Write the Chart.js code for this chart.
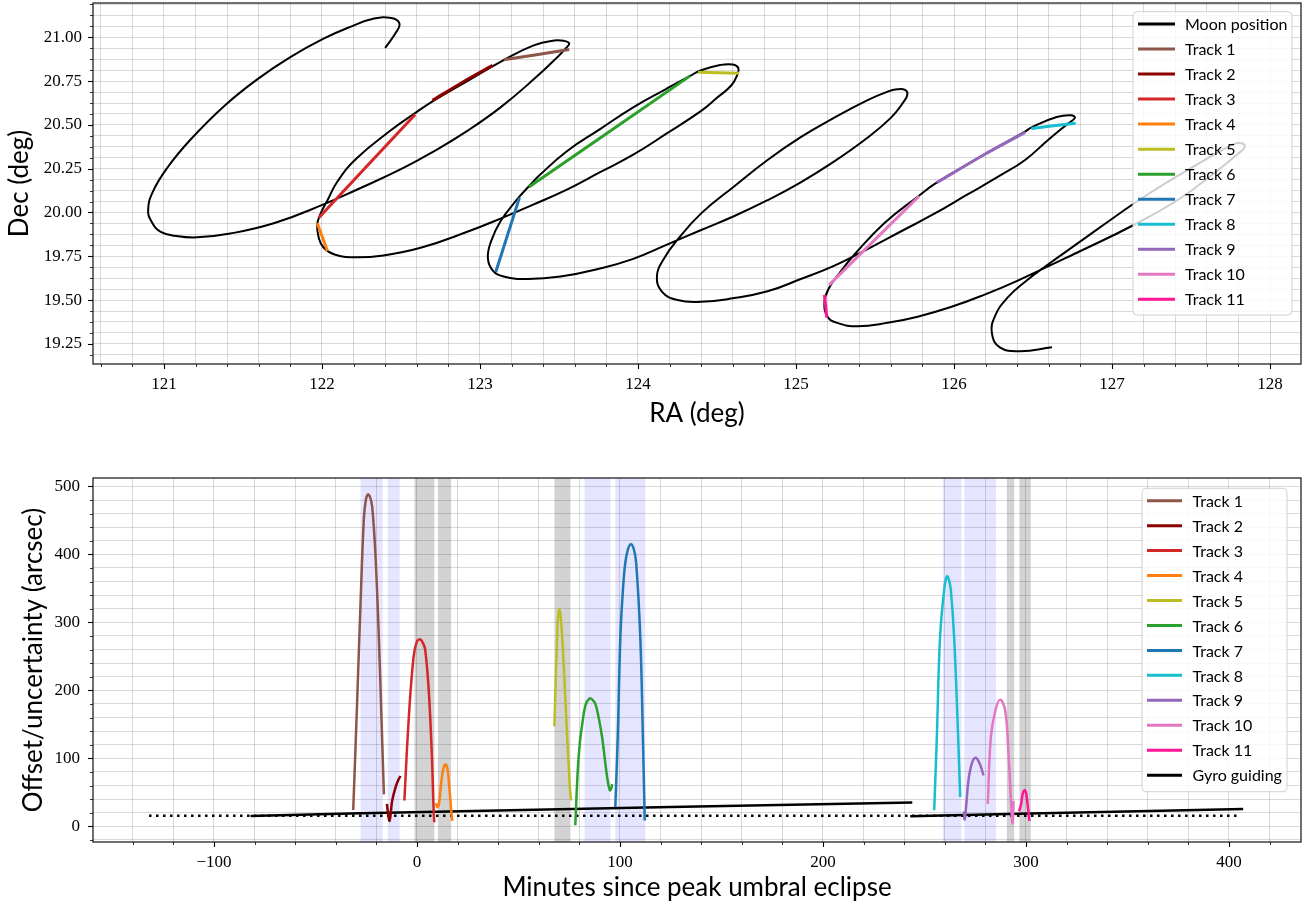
<!DOCTYPE html>
<html><head><meta charset="utf-8">
<script src="https://cdn.jsdelivr.net/npm/chart.js@4.4.1/dist/chart.umd.min.js"></script>
<style>
html,body{margin:0;padding:0;background:#fff;overflow:hidden;}
#w1{position:absolute;left:0;top:0;width:1305px;height:445px;}
#w2{position:absolute;left:0;top:445px;width:1305px;height:462px;}
</style></head><body>
<div id="w1"><canvas id="c1"></canvas></div>
<div id="w2"><canvas id="c2"></canvas></div>
<script>
// ---------------- DATA ----------------
const moonRA = [122.40,122.47,122.49,122.44,122.33,122.18,122.01,121.80,121.59,121.38,121.17,121.02,120.93,120.90,120.92,120.98,121.09,121.21,121.42,121.70,122.01,122.22,122.50,122.71,122.92,123.13,123.34,123.49,123.55,123.565,123.53,123.47,123.34,123.15,122.92,122.71,122.58,122.44,122.22,122.10,122.035,121.99,121.97,121.98,122.01,122.08,122.20,122.39,122.63,122.92,123.13,123.34,123.55,123.76,123.97,124.18,124.40,124.50,124.59,124.63,124.635,124.60,124.52,124.40,124.33,124.18,123.97,123.76,123.55,123.38,123.31,123.24,123.13,123.07,123.05,123.08,123.15,123.30,123.51,123.76,123.97,124.18,124.40,124.61,124.82,125.03,125.24,125.45,125.60,125.68,125.705,125.69,125.64,125.58,125.45,125.24,125.03,124.82,124.61,124.40,124.25,124.16,124.12,124.15,124.25,124.40,124.60,124.82,125.03,125.24,125.45,125.66,125.87,126.08,126.29,126.45,126.59,126.71,126.765,126.74,126.65,126.50,126.44,126.19,125.89,125.77,125.56,125.37,125.28,125.21,125.18,125.20,125.26,125.39,125.58,125.77,125.98,126.19,126.40,126.80,127.14,127.43,127.64,127.79,127.84,127.82,127.77,127.54,127.22,127.01,126.80,126.59,126.46,126.34,126.26,126.24,126.29,126.42,126.62];
const moonDec = [20.94,21.03,21.08,21.11,21.107,21.06,20.992,20.887,20.76,20.607,20.418,20.254,20.119,20.017,19.95,19.89,19.864,19.858,19.88,19.94,20.046,20.13,20.247,20.35,20.466,20.60,20.76,20.887,20.944,20.966,20.98,20.982,20.954,20.87,20.75,20.64,20.562,20.472,20.31,20.18,20.07,19.99,19.93,19.855,19.80,19.76,19.744,19.755,19.80,19.89,19.965,20.046,20.13,20.23,20.33,20.45,20.58,20.655,20.725,20.79,20.825,20.845,20.842,20.812,20.78,20.706,20.60,20.476,20.35,20.215,20.15,20.08,19.95,19.835,19.74,19.67,19.635,19.62,19.634,19.68,19.735,19.815,19.90,19.98,20.07,20.172,20.29,20.425,20.54,20.63,20.675,20.70,20.703,20.69,20.64,20.54,20.43,20.30,20.15,19.995,19.845,19.73,19.64,19.55,19.50,19.49,19.51,19.55,19.62,19.695,19.79,19.89,19.99,20.10,20.21,20.30,20.41,20.50,20.54,20.555,20.545,20.49,20.457,20.33,20.17,20.09,19.94,19.76,19.66,19.57,19.49,19.405,19.37,19.35,19.37,19.405,19.46,19.53,19.61,19.78,19.93,20.08,20.22,20.33,20.375,20.395,20.39,20.275,20.10,19.97,19.835,19.70,19.612,19.515,19.41,19.31,19.23,19.208,19.23];

const trackNames = ['Track 1','Track 2','Track 3','Track 4','Track 5','Track 6','Track 7','Track 8','Track 9','Track 10','Track 11'];
const trackColors = ['#8c564b','#8b0000','#d62728','#ff7f0e','#bcbd22','#2ca02c','#1f77b4','#17becf','#9467bd','#e377c2','#ff1493'];

const trackRA = [[123.15,123.565],[122.70,122.89,123.08],[121.98,122.59],[121.97,122.035],[124.38,124.64],[123.31,124.33],[123.25,123.10],[126.49,126.77],[125.89,126.19,126.45],[125.21,125.78],[125.18,125.195]];
const trackDec = [[20.872,20.93],[20.64,20.744,20.84],[19.97,20.56],[19.94,19.78],[20.80,20.795],[20.145,20.78],[20.085,19.66],[20.48,20.51],[20.17,20.33,20.457],[19.587,20.094],[19.53,19.40]];

const trackTime = [
  [-31.4,-29.5,-27.8,-26.2,-25.3,-24.3,-23.2,-22.1,-20.5,-18.8,-17.2,-16.3],
  [-14.8,-14.2,-13.5,-12.9,-12.2,-10.6,-9.2,-8.1],
  [-6.2,-4.1,-1.7,0.0,1.6,3.2,4.1,5.7,7.3,8.1,8.5],
  [9.4,10.0,10.8,11.8,13.0,14.0,15.0,16.0,16.8,17.4],
  [67.7,68.2,68.9,69.6,70.2,70.9,72.0,73.6,75.3,75.9],
  [78.0,79.2,80.3,81.4,83.0,85.0,86.5,87.9,89.5,91.2,93.7,95.0,95.6,96.2],
  [97.7,98.9,100.2,101.4,102.6,104.0,105.4,106.8,108.0,110.0,111.3,112.2],
  [254.8,256.1,257.7,259.9,260.6,261.3,262.1,263.0,264.6,266.3,267.6],
  [269.4,269.8,270.4,271.7,273.4,275.2,277.1,279.1],
  [281.2,282.7,284.9,287.3,289.8,291.4,292.7,293.4,293.9],
  [296.6,297.6,298.5,299.6,300.6,301.7]
];
const trackOffset = [
  [24,181,328,451,478,488,485,471,402,279,132,47],
  [33,18,8,20,38,57,68,74],
  [38,156,249,272,275,268,259,205,107,33,6],
  [34,28,32,60,85,91,85,55,25,8],
  [147,200,268,313,319,305,254,156,58,38],
  [1.5,82,125,150,178,188,186,180,160,131,72,53,55,62],
  [28.5,131,279,345,387,408,415,408,387,279,131,8.4],
  [23.6,131,279,353,364,368,362,348,279,156,43],
  [22,10,25,68,93,101,93,75],
  [33,131,170,186,170,107,33,4,37],
  [22,32,49,53,38,8]
];

const gyroTimeA = [-82,-33,125,244];
const gyroOffsetA = [15,18.7,28.4,35];
const gyroTimeB = [243,361,407];
const gyroOffsetB = [14.7,22.6,25.6];
const refTime = [-132,405];
const refOffset = [15.5,15.5];

const blueSpans = [[-27.8,-16.9],[-14.4,-8.5],[82.5,95.3],[97.7,112.5],[259.1,268.2],[269.6,285.3]];
const greySpans = [[-1.2,8.6],[10.3,16.8],[67.7,75.6],[290.6,294.2],[296.8,302.4]];

const raMajor = 1, raMinor = 0.2;
const decMajor = 0.25, decMinor = 0.0625;
const tMajor = 100, tMinor = 20;
const oMajor = 100, oMinor = 20;

// ---------------- HELPERS ----------------
const TICK_FONT = {family:"'Liberation Serif', serif", size:17};
const TITLE_FONT = {family:"Lato, sans-serif", size:26};
const LEG_FONT = "16px Lato, sans-serif";
const GRID = 'rgba(0,0,0,0.15)';

function isMajor(v, step){ const r=v/step; return Math.abs(r-Math.round(r))<1e-6; }
function stepTicks(step){
  return function(scale){
    const out=[]; const k0=Math.ceil(scale.min/step-1e-9), k1=Math.floor(scale.max/step+1e-9);
    for(let k=k0;k<=k1;k++) out.push({value:+(k*step).toFixed(6)});
    scale.ticks=out;
  };
}
function fitX(h){ return function(s){ s.height=h; s.paddingLeft=0; s.paddingRight=0; }; }
function fitY(w){ return function(s){ s.width=w; s.paddingTop=0; s.paddingBottom=0; }; }
function pts(xs, ys){ return xs.map((x,i)=>({x:x, y:ys[i]})); }

function drawTickMarks(chart, scale, step, isX){
  const ctx=chart.ctx, ca=chart.chartArea;
  ctx.save(); ctx.strokeStyle='#000';
  for(const t of scale.ticks){
    const major=isMajor(t.value,step); const len=major?5:3;
    ctx.lineWidth = major?1.1:0.8;
    const p=Math.round(scale.getPixelForValue(t.value))+0.5;
    ctx.beginPath();
    if(isX){ctx.moveTo(p,ca.bottom);ctx.lineTo(p,ca.bottom+len);}
    else {ctx.moveTo(ca.left,p);ctx.lineTo(ca.left-len,p);}
    ctx.stroke();
  }
  ctx.restore();
}
function drawFrame(chart){
  const ctx=chart.ctx, ca=chart.chartArea;
  ctx.save(); ctx.strokeStyle='#222'; ctx.lineWidth=1.3;
  ctx.strokeRect(ca.left,ca.top,ca.right-ca.left,ca.bottom-ca.top);
  ctx.restore();
}
function drawLegend(chart, box, items, y0, dy, lx1, lx2, tx){
  const ctx=chart.ctx;
  ctx.save();
  const [x1,y1,x2,y2]=box, r=4;
  ctx.beginPath();
  ctx.moveTo(x1+r,y1); ctx.lineTo(x2-r,y1); ctx.quadraticCurveTo(x2,y1,x2,y1+r);
  ctx.lineTo(x2,y2-r); ctx.quadraticCurveTo(x2,y2,x2-r,y2);
  ctx.lineTo(x1+r,y2); ctx.quadraticCurveTo(x1,y2,x1,y2-r);
  ctx.lineTo(x1,y1+r); ctx.quadraticCurveTo(x1,y1,x1+r,y1); ctx.closePath();
  ctx.fillStyle='rgba(255,255,255,0.8)'; ctx.fill();
  ctx.strokeStyle='rgba(204,204,204,0.9)'; ctx.lineWidth=1; ctx.stroke();
  ctx.font=LEG_FONT; ctx.textBaseline='middle'; ctx.textAlign='left';
  items.forEach((it,i)=>{
    const y=y0+i*dy;
    ctx.strokeStyle=it.color; ctx.lineWidth=3; ctx.lineCap='butt';
    ctx.beginPath(); ctx.moveTo(lx1,y); ctx.lineTo(lx2,y); ctx.stroke();
    ctx.fillStyle='#000'; ctx.fillText(it.label, tx, y+1);
  });
  ctx.restore();
}

// ---------------- TOP CHART ----------------
const topSets = [{label:'Moon position', data:pts(moonRA,moonDec), borderColor:'#000', borderWidth:2,
  showLine:true, pointRadius:0, tension:0.45, order:2}];
trackNames.forEach((n,i)=>topSets.push({label:n, data:pts(trackRA[i],trackDec[i]), borderColor:trackColors[i],
  borderWidth:3, showLine:true, pointRadius:0, tension:0.3, order:1}));

const topPlugin = {
  id:'topdeco',
  afterDraw(chart){
    drawFrame(chart);
    drawTickMarks(chart, chart.scales.x, raMajor, true);
    drawTickMarks(chart, chart.scales.y, decMajor, false);
    const items=[{label:'Moon position',color:'#000'}].concat(trackNames.map((n,i)=>({label:n,color:trackColors[i]})));
    drawLegend(chart,[1133,11.7,1292,315],items,24,25.03,1138,1175,1185);
  }
};

new Chart(document.getElementById('c1'), {
  type:'scatter',
  data:{datasets:topSets},
  options:{
    animation:false, responsive:true, maintainAspectRatio:false,
    layout:{padding:{top:3,right:4,left:0,bottom:0}},
    plugins:{legend:{display:false}, tooltip:{enabled:false}},
    scales:{
      x:{type:'linear', min:120.551, max:128.196,
        afterBuildTicks:stepTicks(raMinor),
        afterFit:fitX(81),
        ticks:{autoSkip:false, maxRotation:0, padding:10, color:'#000', font:TICK_FONT,
          callback:(v)=>isMajor(v,raMajor)?String(Math.round(v)):''},
        grid:{color:GRID, lineWidth:1, drawTicks:false},
        border:{display:false},
        title:{display:true, text:'RA (deg)', color:'#000', font:TITLE_FONT, padding:{top:0,bottom:16}}
      },
      y:{type:'linear', min:19.135, max:21.196,
        afterBuildTicks:stepTicks(decMinor),
        afterFit:fitY(93),
        ticks:{autoSkip:false, padding:11, color:'#000', font:TICK_FONT,
          callback:(v)=>isMajor(v,decMajor)?v.toFixed(2):''},
        grid:{color:GRID, lineWidth:1, drawTicks:false},
        border:{display:false},
        title:{display:true, text:'Dec (deg)', color:'#000', font:TITLE_FONT, padding:{top:4,bottom:0}}
      }
    }
  },
  plugins:[topPlugin]
});

// ---------------- BOTTOM CHART ----------------
const botSets = [];
trackNames.forEach((n,i)=>botSets.push({label:n, data:pts(trackTime[i],trackOffset[i]), borderColor:trackColors[i],
  borderWidth:2.5, showLine:true, pointRadius:0, tension:0.4, order:1}));
botSets.push({label:'Gyro guiding', data:pts(gyroTimeA,gyroOffsetA), borderColor:'#000', borderWidth:2.5,
  showLine:true, pointRadius:0, tension:0.2, order:2});
botSets.push({label:'Gyro guiding (2)', data:pts(gyroTimeB,gyroOffsetB), borderColor:'#000', borderWidth:2.5,
  showLine:true, pointRadius:0, tension:0.2, order:2});
botSets.push({label:'Reference', data:pts(refTime,refOffset), borderColor:'#000', borderWidth:2.5,
  borderDash:[2.5,4.5], showLine:true, pointRadius:0, order:3});

const botPlugin = {
  id:'botdeco',
  beforeDraw(chart){
    const ctx=chart.ctx, ca=chart.chartArea, xs=chart.scales.x;
    ctx.save();
    ctx.beginPath(); ctx.rect(ca.left,ca.top,ca.right-ca.left,ca.bottom-ca.top); ctx.clip();
    ctx.fillStyle='rgba(0,0,255,0.1)';
    blueSpans.forEach(s=>{const a=xs.getPixelForValue(s[0]), b=xs.getPixelForValue(s[1]); ctx.fillRect(a,ca.top,b-a,ca.bottom-ca.top);});
    ctx.fillStyle='rgba(128,128,128,0.35)';
    greySpans.forEach(s=>{const a=xs.getPixelForValue(s[0]), b=xs.getPixelForValue(s[1]); ctx.fillRect(a,ca.top,b-a,ca.bottom-ca.top);});
    ctx.restore();
  },
  afterDraw(chart){
    drawFrame(chart);
    drawTickMarks(chart, chart.scales.x, tMajor, true);
    drawTickMarks(chart, chart.scales.y, oMajor, false);
    const items=trackNames.map((n,i)=>({label:n,color:trackColors[i]})).concat([{label:'Gyro guiding',color:'#000'}]);
    drawLegend(chart,[1142,43.3,1287,346.7],items,55.7,24.95,1147,1182,1192.5);
  }
};

new Chart(document.getElementById('c2'), {
  type:'scatter',
  data:{datasets:botSets},
  options:{
    animation:false, responsive:true, maintainAspectRatio:false,
    layout:{padding:{top:33,right:4,left:0,bottom:0}},
    plugins:{legend:{display:false}, tooltip:{enabled:false}},
    scales:{
      x:{type:'linear', min:-159.6, max:435.5,
        afterBuildTicks:stepTicks(tMinor),
        afterFit:fitX(65),
        ticks:{autoSkip:false, maxRotation:0, padding:10, color:'#000', font:TICK_FONT,
          callback:(v)=>isMajor(v,tMajor)?String(Math.round(v)).replace('-','\u2212'):''},
        grid:{color:GRID, lineWidth:1, drawTicks:false},
        border:{display:false},
        title:{display:true, text:'Minutes since peak umbral eclipse', color:'#000', font:TITLE_FONT, padding:{top:0,bottom:4}}
      },
      y:{type:'linear', min:-23.1, max:512.4,
        afterBuildTicks:stepTicks(oMinor),
        afterFit:fitY(93),
        ticks:{autoSkip:false, padding:13, color:'#000', font:TICK_FONT,
          callback:(v)=>isMajor(v,oMajor)?String(Math.round(v)):''},
        grid:{color:GRID, lineWidth:1, drawTicks:false},
        border:{display:false},
        title:{display:true, text:'Offset/uncertainty (arcsec)', color:'#000', font:TITLE_FONT, padding:{top:18,bottom:0}}
      }
    }
  },
  plugins:[botPlugin]
});
</script>
</body></html>
